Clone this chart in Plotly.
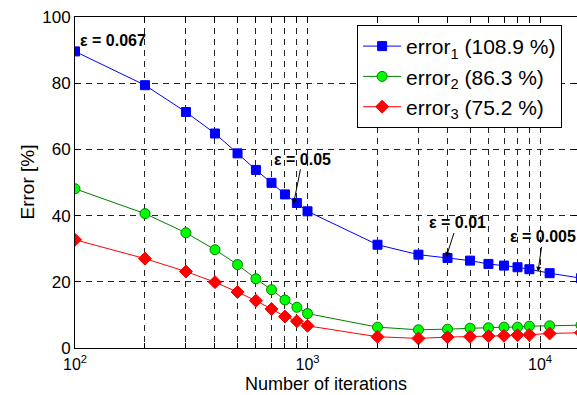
import numpy as np
import plotly.graph_objects as go

iters = [100, 200, 300, 400, 500, 600, 700, 800, 900, 1000,
         2000, 3000, 4000, 5000, 6000, 7000, 8000, 9000, 11000, 15000]
error1 = [89.6, 79.4, 71.3, 64.8, 58.8, 53.8, 49.9, 46.4, 43.8, 41.3,
          31.2, 28.2, 27.2, 26.4, 25.4, 24.9, 24.4, 23.8, 22.6, 21.1]
error2 = [48.1, 40.6, 34.8, 29.7, 25.2, 20.9, 17.6, 14.5, 12.3, 10.4,
          6.3, 5.5, 5.7, 6.0, 6.1, 6.3, 6.3, 6.6, 6.7, 6.9]
error3 = [32.7, 27.0, 23.1, 19.9, 16.9, 14.3, 11.8, 9.5, 8.1, 6.7,
          3.4, 2.9, 3.3, 3.4, 3.6, 3.7, 3.9, 4.0, 4.4, 4.6]
names = ["error<sub>1</sub> (108.9 %)", "error<sub>2</sub> (86.3 %)", "error<sub>3</sub> (75.2 %)"]

x_tickvals = [100, 200, 300, 400, 500, 600, 700, 800, 900,
              1000, 2000, 3000, 4000, 5000, 6000, 7000, 8000, 9000, 10000]
x_ticktext = ["10<sup>2</sup>"] + [""] * 8 + ["10<sup>3</sup>"] + [""] * 8 + ["10<sup>4</sup>"]
y_tickvals = [0, 20, 40, 60, 80, 100]
x_title = "Number of iterations"
y_title = "Error [%]"

annotations_data = [
    # text, x, y, ax, ay, arrow
    ("ε = 0.067", 145, 93, 0, 0, False),
    ("ε = 0.05", 870, 43.4, 9, -45, True),
    ("ε = 0.01", 3950, 27.5, 11, -34, True),
    ("ε = 0.005", 9800, 23.0, 5, -35, True),
]

FONT = "Liberation Sans, Arial, sans-serif"

fig = go.Figure()
fig.add_trace(go.Scatter(
    x=iters, y=error1, name=names[0], mode="lines+markers",
    line=dict(color="#0000ff", width=1),
    marker=dict(symbol="square", size=9, color="#0000ff", line=dict(color="#0000ff", width=1))))
fig.add_trace(go.Scatter(
    x=iters, y=error2, name=names[1], mode="lines+markers",
    line=dict(color="#008000", width=1),
    marker=dict(symbol="circle", size=10, color="#00ff00", line=dict(color="#008000", width=1))))
fig.add_trace(go.Scatter(
    x=iters, y=error3, name=names[2], mode="lines+markers",
    line=dict(color="#ff0000", width=1),
    marker=dict(symbol="diamond", size=10, color="#ff0000", line=dict(color="#ff0000", width=1))))

for text, ax_x, ax_y, dx, dy, arrow in annotations_data:
    if arrow:
        fig.add_annotation(x=np.log10(ax_x), y=ax_y, text="<b>" + text + "</b>",
                           showarrow=True, ax=dx, ay=dy, arrowhead=2, arrowsize=1,
                           arrowwidth=1, arrowcolor="black",
                           font=dict(family=FONT, size=16, color="black"))
    else:
        fig.add_annotation(x=np.log10(ax_x), y=ax_y, text="<b>" + text + "</b>",
                           showarrow=False, font=dict(family=FONT, size=16, color="black"))

# axis titles as paper annotations for exact placement
fig.add_annotation(xref="paper", yref="paper", x=0.5, y=-0.1087,
                   xanchor="center", yanchor="middle", showarrow=False,
                   text=x_title, font=dict(family=FONT, size=18, color="black"))
fig.add_annotation(xref="paper", yref="paper", x=-0.0956, y=0.5,
                   xanchor="center", yanchor="middle", showarrow=False, textangle=-90,
                   text=y_title, font=dict(family=FONT, size=19, color="black"))

grid_dash = "6px,5px"
fig.update_xaxes(
    type="log", range=[2, 4.159],
    tickvals=x_tickvals, ticktext=x_ticktext,
    ticks="inside", ticklen=5, tickcolor="black", mirror="ticks",
    showline=True, linecolor="black", linewidth=1,
    showgrid=True, gridcolor="#222222", griddash=grid_dash, gridwidth=1,
    tickfont=dict(family=FONT, size=16, color="black"),
    ticklabelstandoff=2,
    zeroline=False,
)
fig.update_yaxes(
    range=[0, 100], tickvals=y_tickvals,
    ticks="inside", ticklen=5, tickcolor="black", mirror="ticks",
    showline=True, linecolor="black", linewidth=1,
    showgrid=True, gridcolor="#222222", griddash=grid_dash, gridwidth=1,
    tickfont=dict(family=FONT, size=17, color="black"),
    zeroline=False,
)
fig.update_layout(
    width=577, height=395,
    margin=dict(l=75, r=0, t=17, b=47, autoexpand=False),
    plot_bgcolor="white", paper_bgcolor="white",
    font=dict(family=FONT, color="black"),
    legend=dict(x=0.562, y=0.976, xanchor="left", yanchor="top",
                bgcolor="white", bordercolor="black", borderwidth=1,
                font=dict(family=FONT, size=21, color="black"),
                itemwidth=38, tracegroupgap=0),
)
fig.write_html("out.html")
